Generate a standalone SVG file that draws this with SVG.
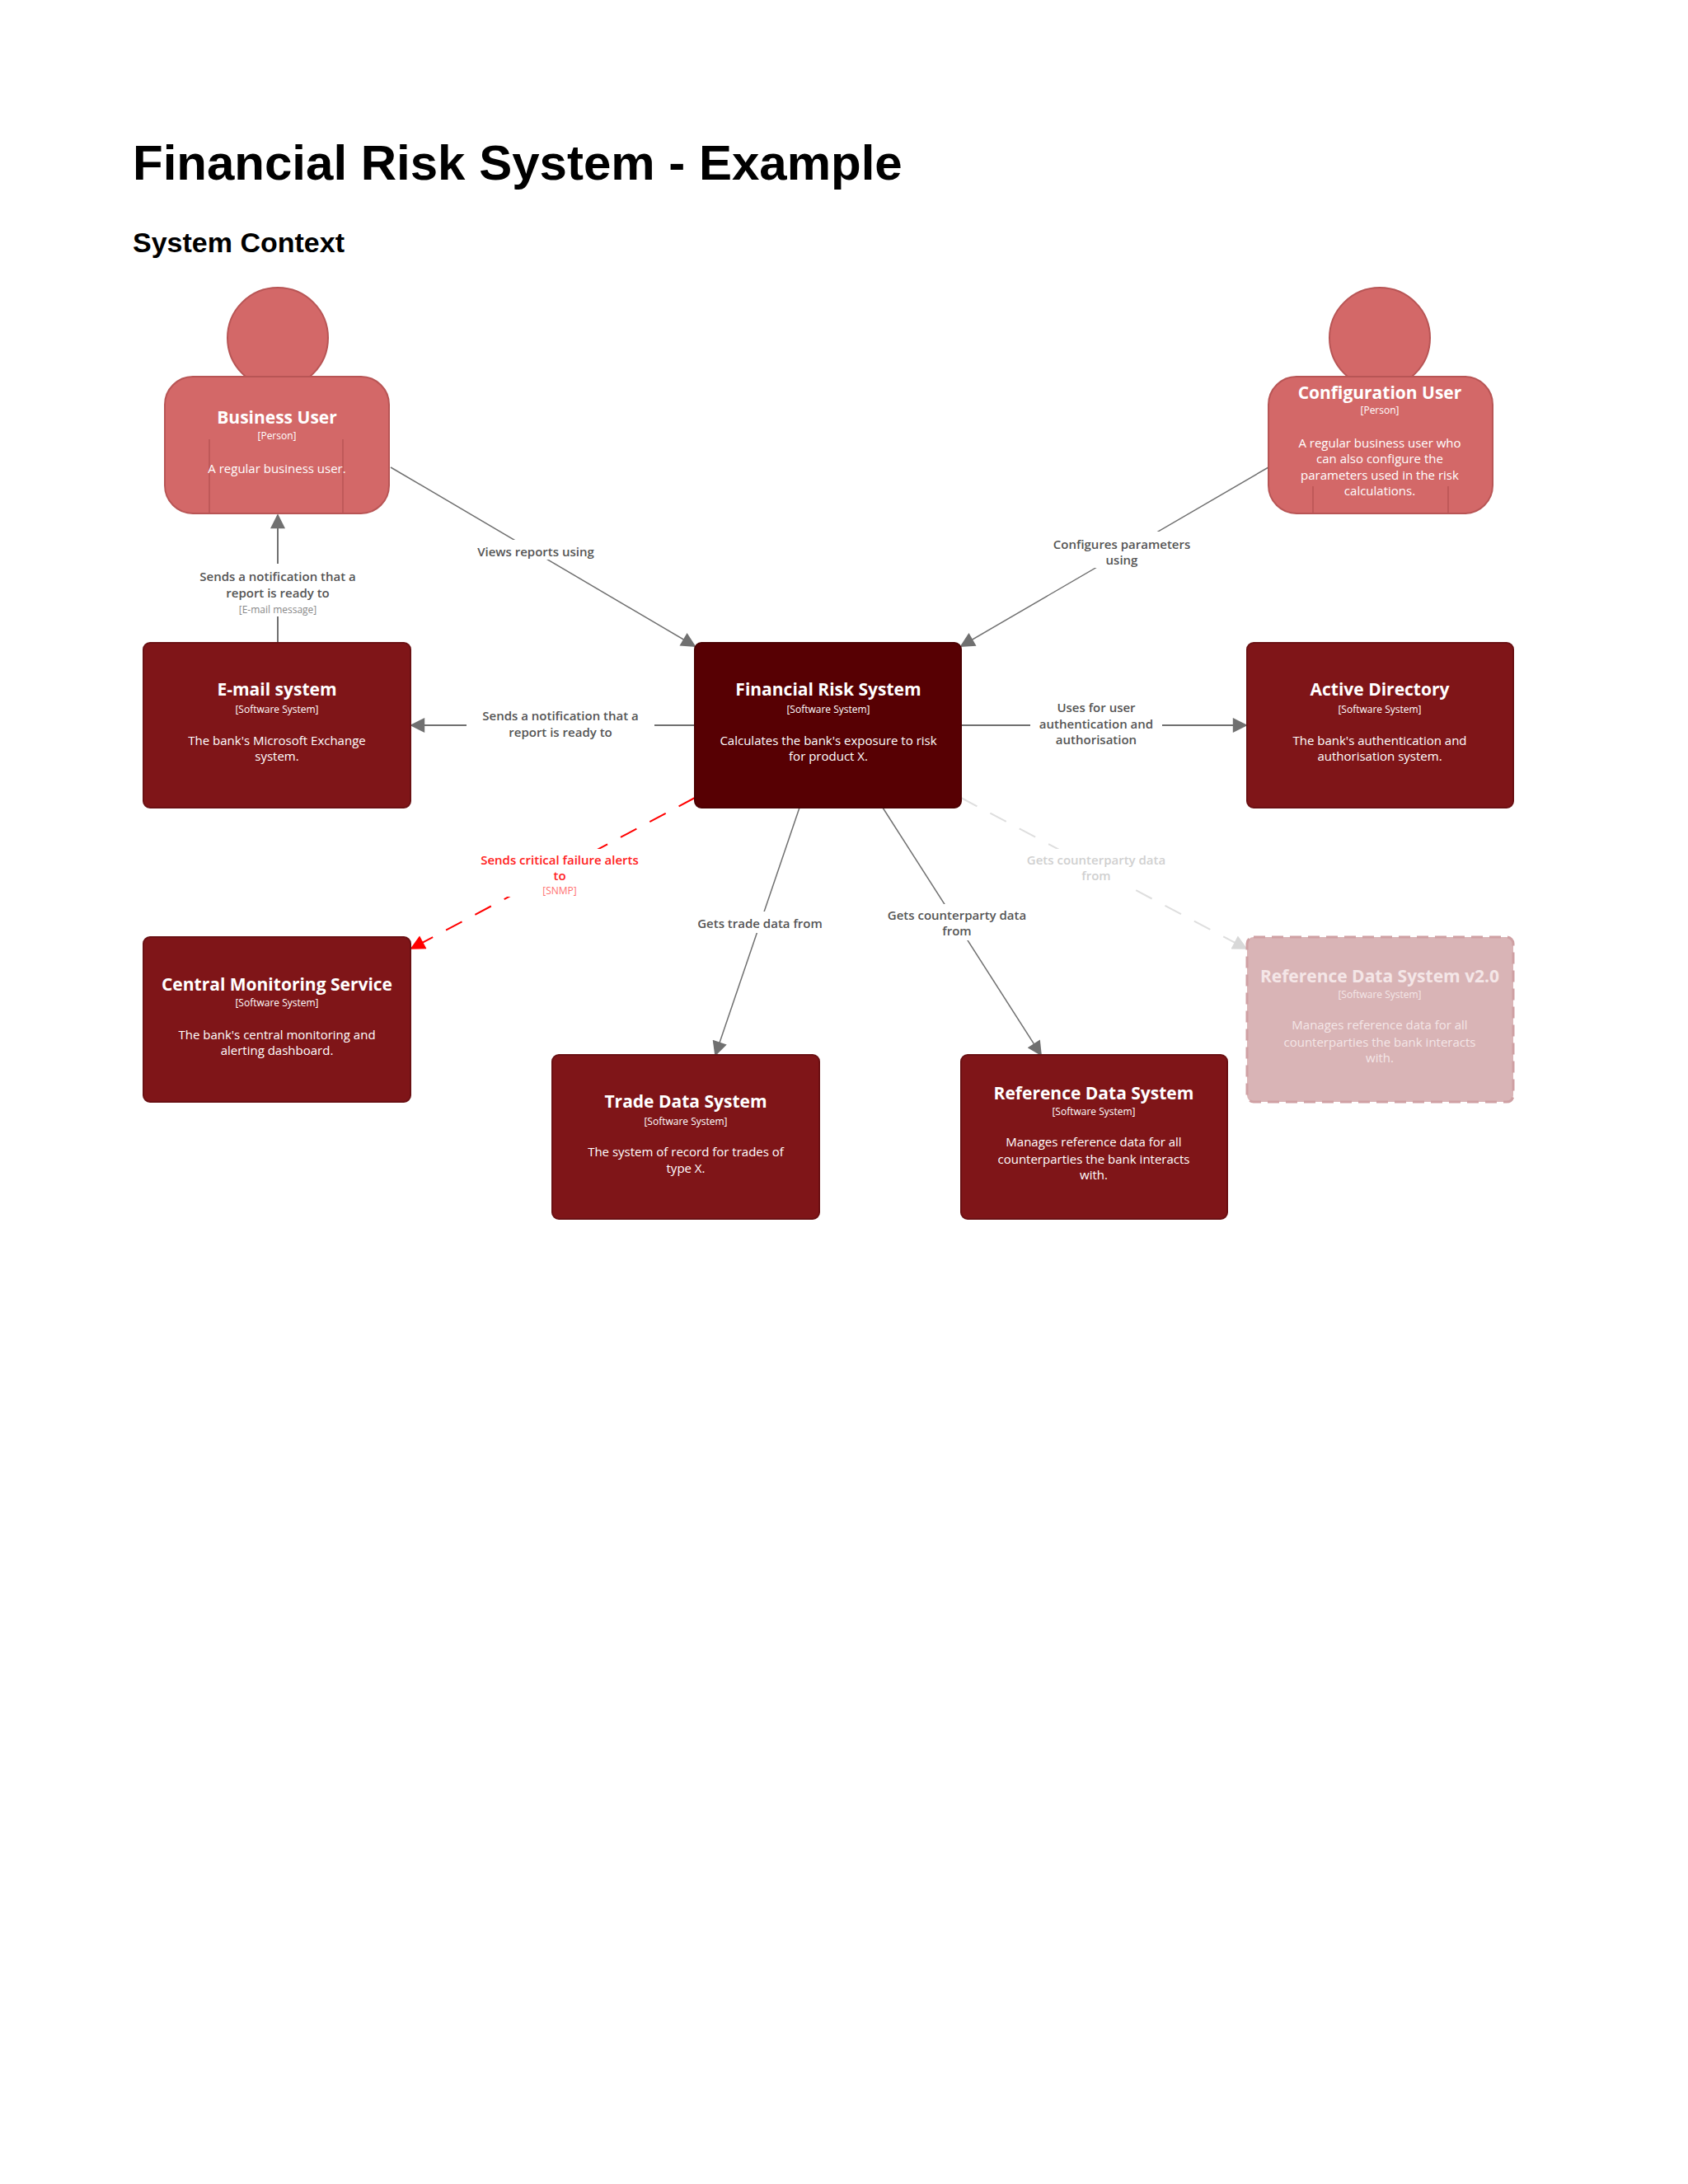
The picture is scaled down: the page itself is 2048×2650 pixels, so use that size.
<svg xmlns="http://www.w3.org/2000/svg" width="2048" height="2650" viewBox="0 0 2048 2650">
<style>
.h1{font-family:"Liberation Sans",Arial,sans-serif;font-weight:bold;font-size:60px;fill:#000}
.h2{font-family:"Liberation Sans",Arial,sans-serif;font-weight:bold;font-size:34px;fill:#000}
text.t{font-family:"Open Sans","DejaVu Sans",sans-serif;font-weight:bold;font-size:21px;fill:#fff;text-anchor:middle}
text.s{font-family:"Open Sans","DejaVu Sans",sans-serif;font-size:12px;fill:#fff;text-anchor:middle}
text.d{font-family:"Open Sans","DejaVu Sans",sans-serif;font-size:15px;fill:#fff;text-anchor:middle}
text.l{font-family:"Open Sans","DejaVu Sans",sans-serif;font-size:15px;font-weight:600;fill:#555;text-anchor:middle}
text.ls{font-family:"Open Sans","DejaVu Sans",sans-serif;font-size:12px;fill:#888;text-anchor:middle}
.sys{fill:#7f1518;stroke:#6a1013;stroke-width:2}
.per{fill:#d36868;stroke:#b85555;stroke-width:2}
.ln{stroke:#707070;stroke-width:2;fill:none;marker-end:url(#a)}
.bg{fill:#fff}
</style>
<defs>
<marker id="a" viewBox="0 0 10 10" refX="9" refY="5" markerWidth="20" markerHeight="18" markerUnits="userSpaceOnUse" orient="auto"><path d="M0,0 L10,5 L0,10 z" fill="#707070"/></marker>
<marker id="ar" viewBox="0 0 10 10" refX="9" refY="5" markerWidth="20" markerHeight="18" markerUnits="userSpaceOnUse" orient="auto"><path d="M0,0 L10,5 L0,10 z" fill="#ff0000"/></marker>
<marker id="ag" viewBox="0 0 10 10" refX="9" refY="5" markerWidth="20" markerHeight="18" markerUnits="userSpaceOnUse" orient="auto"><path d="M0,0 L10,5 L0,10 z" fill="#d8d8d8"/></marker>
</defs>
<rect width="2048" height="2650" fill="#fff"/>
<text class="h1" x="161" y="218">Financial Risk System - Example</text>
<text class="h2" x="161" y="306">System Context</text>

<g id="connectors">
<line class="ln" x1="474" y1="567" x2="843" y2="784" style="stroke-width:1.5"/>
<line class="ln" x1="1539" y1="567" x2="1166" y2="784" style="stroke-width:1.5"/>
<line class="ln" x1="337" y1="780" x2="337" y2="625"/>
<line class="ln" x1="843" y1="880" x2="499" y2="880"/>
<line class="ln" x1="1166" y1="880" x2="1512" y2="880"/>
<line x1="843" y1="968" x2="499" y2="1151" stroke="#ff0000" stroke-width="2" stroke-dasharray="22,18" marker-end="url(#ar)"/>
<line class="ln" x1="970" y1="980" x2="868" y2="1280" style="stroke-width:1.5"/>
<line class="ln" x1="1071" y1="980" x2="1263" y2="1280" style="stroke-width:1.5"/>
<line x1="1166" y1="968" x2="1512" y2="1151" stroke="#dedede" stroke-width="2" stroke-dasharray="22,18" marker-end="url(#ag)"/>
<rect class="bg" x="566" y="655" width="168" height="24"/>
<text class="l" x="650" y="675">Views reports using</text>
<rect class="bg" x="1265" y="645" width="192" height="44"/>
<text class="l" x="1361" y="666">Configures parameters</text>
<text class="l" x="1361" y="685">using</text>
<rect class="bg" x="224" y="684" width="226" height="64"/>
<text class="l" x="337" y="705">Sends a notification that a</text>
<text class="l" x="337" y="725">report is ready to</text>
<text class="ls" x="337" y="744">[E-mail message]</text>
<rect class="bg" x="566" y="855" width="228" height="44"/>
<text class="l" x="680" y="874">Sends a notification that a</text>
<text class="l" x="680" y="894">report is ready to</text>
<rect class="bg" x="1250" y="845" width="160" height="62"/>
<text class="l" x="1330" y="864">Uses for user</text>
<text class="l" x="1330" y="884">authentication and</text>
<text class="l" x="1330" y="903">authorisation</text>
<rect class="bg" x="566" y="1030" width="226" height="58"/>
<text class="l" x="679" y="1049" style="fill:#ff2020">Sends critical failure alerts</text>
<text class="l" x="679" y="1068" style="fill:#ff2020">to</text>
<text class="ls" x="679" y="1085" style="fill:#ff7070">[SNMP]</text>
<rect class="bg" x="832" y="1106" width="182" height="26"/>
<text class="l" x="922" y="1126">Gets trade data from</text>
<rect class="bg" x="1062" y="1097" width="198" height="44"/>
<text class="l" x="1161" y="1116">Gets counterparty data</text>
<text class="l" x="1161" y="1135">from</text>
<rect class="bg" x="1231" y="1030" width="198" height="44"/>
<text class="l" x="1330" y="1049" style="fill:#d0d0d0">Gets counterparty data</text>
<text class="l" x="1330" y="1068" style="fill:#d0d0d0">from</text>
</g>

<g id="business-user">
<circle class="per" cx="337" cy="410" r="61"/>
<rect class="per" x="200" y="457" width="272" height="166" rx="34"/>
<line x1="254" y1="533" x2="254" y2="623" stroke="#b85555" stroke-width="1.5"/>
<line x1="416" y1="533" x2="416" y2="623" stroke="#b85555" stroke-width="1.5"/>
<text class="t" x="336" y="514">Business User</text>
<text class="s" x="336" y="533">[Person]</text>
<text class="d" x="336" y="574">A regular business user.</text>
</g>

<g id="configuration-user">
<circle class="per" cx="1674" cy="410" r="61"/>
<rect class="per" x="1539" y="457" width="272" height="166" rx="34"/>
<line x1="1593" y1="590" x2="1593" y2="623" stroke="#b85555" stroke-width="1.5"/>
<line x1="1757" y1="590" x2="1757" y2="623" stroke="#b85555" stroke-width="1.5"/>
<text class="t" x="1674" y="484">Configuration User</text>
<text class="s" x="1674" y="502">[Person]</text>
<text class="d" x="1674" y="543">A regular business user who</text>
<text class="d" x="1674" y="562">can also configure the</text>
<text class="d" x="1674" y="582">parameters used in the risk</text>
<text class="d" x="1674" y="601">calculations.</text>
</g>

<g id="email-system">
<rect class="sys" x="174" y="780" width="324" height="200" rx="8"/>
<text class="t" x="336" y="844">E-mail system</text>
<text class="s" x="336" y="865">[Software System]</text>
<text class="d" x="336" y="904">The bank's Microsoft Exchange</text>
<text class="d" x="336" y="923">system.</text>
</g>

<g id="financial-risk-system">
<rect x="843" y="780" width="323" height="200" rx="8" fill="#570003" stroke="#4a0002" stroke-width="2"/>
<text class="t" x="1005" y="844">Financial Risk System</text>
<text class="s" x="1005" y="865">[Software System]</text>
<text class="d" x="1005" y="904">Calculates the bank's exposure to risk</text>
<text class="d" x="1005" y="923">for product X.</text>
</g>

<g id="active-directory">
<rect class="sys" x="1513" y="780" width="323" height="200" rx="8"/>
<text class="t" x="1674" y="844">Active Directory</text>
<text class="s" x="1674" y="865">[Software System]</text>
<text class="d" x="1674" y="904">The bank's authentication and</text>
<text class="d" x="1674" y="923">authorisation system.</text>
</g>

<g id="central-monitoring-service">
<rect class="sys" x="174" y="1137" width="324" height="200" rx="8"/>
<text class="t" x="336" y="1202">Central Monitoring Service</text>
<text class="s" x="336" y="1221">[Software System]</text>
<text class="d" x="336" y="1261">The bank's central monitoring and</text>
<text class="d" x="336" y="1280">alerting dashboard.</text>
</g>

<g id="trade-data-system">
<rect class="sys" x="670" y="1280" width="324" height="199" rx="8"/>
<text class="t" x="832" y="1344">Trade Data System</text>
<text class="s" x="832" y="1365">[Software System]</text>
<text class="d" x="832" y="1403">The system of record for trades of</text>
<text class="d" x="832" y="1423">type X.</text>
</g>

<g id="reference-data-system">
<rect class="sys" x="1166" y="1280" width="323" height="199" rx="8"/>
<text class="t" x="1327" y="1334">Reference Data System</text>
<text class="s" x="1327" y="1353">[Software System]</text>
<text class="d" x="1327" y="1391">Manages reference data for all</text>
<text class="d" x="1327" y="1412">counterparties the bank interacts</text>
<text class="d" x="1327" y="1431">with.</text>
</g>

<g id="reference-data-system-v2">
<rect x="1513" y="1137" width="323" height="200" rx="8" fill="#d9b4b6" stroke="#cfa0a3" stroke-width="3" stroke-dasharray="14,8"/>
<text class="t" x="1674" y="1192" style="fill:#f4e6e7">Reference Data System v2.0</text>
<text class="s" x="1674" y="1211" style="fill:#f4e6e7">[Software System]</text>
<text class="d" x="1674" y="1249" style="fill:#f4e6e7">Manages reference data for all</text>
<text class="d" x="1674" y="1270" style="fill:#f4e6e7">counterparties the bank interacts</text>
<text class="d" x="1674" y="1289" style="fill:#f4e6e7">with.</text>
</g>
</svg>
